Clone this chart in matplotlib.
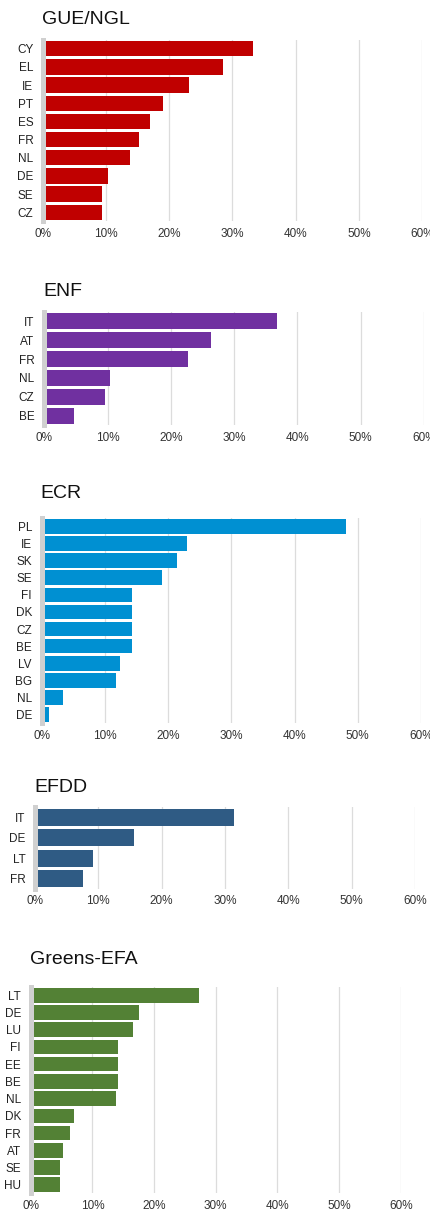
import matplotlib
matplotlib.use('Agg')
import matplotlib.pyplot as plt

plt.rcParams['font.family'] = ['Liberation Sans', 'DejaVu Sans']

# Data per group (share of MEPs by country, %)
gue_countries = ['CY', 'EL', 'IE', 'PT', 'ES', 'FR', 'NL', 'DE', 'SE', 'CZ']
gue_values = [33.2, 28.5, 23.1, 19.0, 16.9, 15.2, 13.7, 10.3, 9.4, 9.4]

enf_countries = ['IT', 'AT', 'FR', 'NL', 'CZ', 'BE']
enf_values = [36.8, 26.4, 22.7, 10.4, 9.6, 4.7]

ecr_countries = ['PL', 'IE', 'SK', 'SE', 'FI', 'DK', 'CZ', 'BE', 'LV', 'BG', 'NL', 'DE']
ecr_values = [48.1, 23.0, 21.4, 19.0, 14.3, 14.3, 14.3, 14.3, 12.4, 11.7, 3.4, 1.1]

efdd_countries = ['IT', 'DE', 'LT', 'FR']
efdd_values = [31.5, 15.6, 9.1, 7.6]

greens_countries = ['LT', 'DE', 'LU', 'FI', 'EE', 'BE', 'NL', 'DK', 'FR', 'AT', 'SE', 'HU']
greens_values = [27.3, 17.6, 16.6, 14.2, 14.2, 14.2, 13.8, 7.1, 6.3, 5.2, 4.8, 4.8]

groups = ['GUE/NGL', 'ENF', 'ECR', 'EFDD', 'Greens-EFA']
colors = ['#c00000', '#7030a0', '#0090d2', '#2f5b84', '#538135']
x_ticks = [0, 10, 20, 30, 40, 50, 60]

W, H = 431, 1213
# zero_px, sixty_px, bar_top, bar_bottom, title_y (pixels)
layout = [
    (43, 422, 41, 220, 20),
    (44.3, 424, 313, 424, 292),
    (41.7, 421, 519, 722, 493),
    (35, 415, 809, 887, 787),
    (30.7, 400.7, 988, 1192, 960),
]

fig = plt.figure(figsize=(W / 100, H / 100), dpi=100)

data = [
    (gue_countries, gue_values),
    (enf_countries, enf_values),
    (ecr_countries, ecr_values),
    (efdd_countries, efdd_values),
    (greens_countries, greens_values),
]

bar_h = 0.85
for (countries, values), name, col, (x0, x60, btop, bbot, ty) in zip(data, groups, colors, layout):
    n = len(countries)
    slot = (bbot - btop) / (n - 1 + bar_h)
    top_px = btop - (1 - bar_h) / 2 * slot
    height_px = n * slot
    ax = fig.add_axes([x0 / W, 1 - (top_px + height_px) / H, (x60 - x0) / W, height_px / H])
    ax.barh(range(n), values, height=bar_h, color=col, zorder=2)
    ax.set_xlim(0, 60)
    ax.set_ylim(n - 0.5, -0.5)
    ax.set_yticks(range(n))
    ax.set_yticklabels(countries, fontsize=8.5, color='#222222')
    ax.set_xticks(x_ticks)
    ax.set_xticklabels([f'{t}%' for t in x_ticks], fontsize=8.5, color='#333333')
    ax.tick_params(axis='both', length=0)
    ax.tick_params(axis='y', pad=7)
    ax.tick_params(axis='x', pad=5)
    ax.grid(axis='x', color='#dcdcdc', linewidth=0.9, zorder=0)
    ax.set_axisbelow(True)
    for s in ['top', 'right', 'bottom']:
        ax.spines[s].set_visible(False)
    ax.spines['left'].set_color('#d0d0d0')
    ax.spines['left'].set_linewidth(3.6)
    ax.spines['left'].set_zorder(3)
    fig.text((x0 - 1) / W, 1 - ty / H, name, fontsize=14, ha='left', va='center', color='#111111')

fig.savefig('out.png', dpi=100)
